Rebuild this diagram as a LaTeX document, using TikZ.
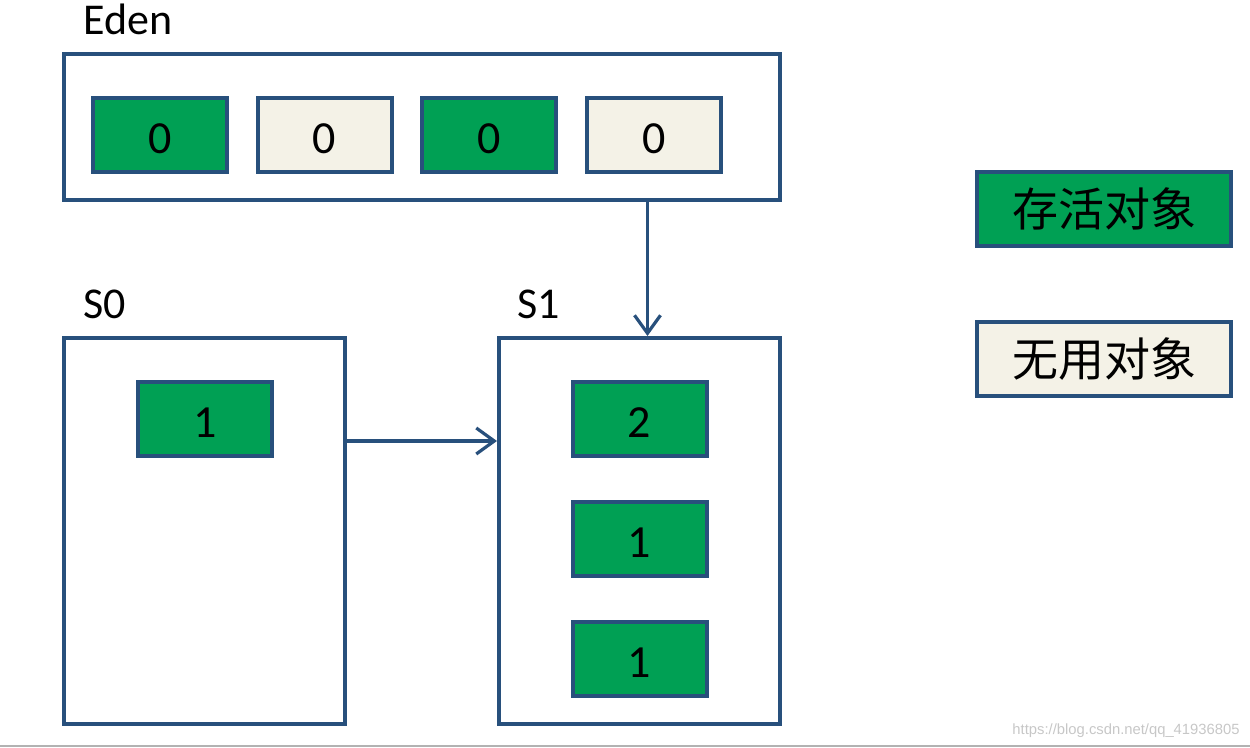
\documentclass[tikz,border=0pt]{standalone}
\usepackage{fontspec}
\setmainfont{Carlito}
\newfontfamily\cjk{Noto Sans CJK SC}
\newfontfamily\wmfont{Liberation Sans}
\usetikzlibrary{arrows.meta}

\definecolor{edgeblue}{RGB}{40,80,124}
\definecolor{alivegreen}{RGB}{0,160,84}
\definecolor{deadbeige}{RGB}{244,242,231}

\begin{document}
\begin{tikzpicture}[x=0.5pt,y=-0.5pt,
		area/.style={draw=edgeblue,line width=2pt,fill=white,inner sep=0pt},
		cell/.style={draw=edgeblue,line width=2pt,inner sep=0pt,
			minimum width=67pt,minimum height=37pt,font=\fontsize{23}{27}\selectfont},
		alive/.style={cell,fill=alivegreen,text height=19pt,text depth=0pt},
		dead/.style={cell,fill=deadbeige,text height=19pt,text depth=0pt},
		legend/.style={cell,minimum width=127pt,font=\fontsize{23}{27}\selectfont\cjk},
		title/.style={anchor=base west,inner sep=0pt,font=\fontsize{22}{26}\selectfont},
		arr/.style={edgeblue,line width=1.6pt,-{Straight Barb[length=9pt,width=13pt]}}]
		\useasboundingbox (0,0) rectangle (1250,748);
		
		% regions
		\node[area,minimum width=358pt,minimum height=73pt] (eden) at (422,127) {};
		\node[area,minimum width=140.5pt,minimum height=193pt] (s0) at (204.5,531) {};
		\node[area,minimum width=140.5pt,minimum height=193pt] (s1) at (639.5,531) {};
		
		\node[title] (edenlbl) at (83,35) {Eden};
		\node[title] (s0lbl) at (83,319) {S0};
		\node[title] (s1lbl) at (517,319) {S1};
		
		% objects in Eden
		\foreach \i/\cx/\kind in {1/160/alive,2/324.5/dead,3/489/alive,4/654/dead}
		\node[\kind] (e\i) at (\cx,135) {0};
		
		% survivors
		\node[alive] (a1) at (205,419) {1};
		\node[alive] (b1) at (639.5,419) {2};
		\node[alive] (b2) at (639.5,539) {1};
		\node[alive] (b3) at (639.5,659) {1};
		
		% copy arrows
		\draw[arr] ([xshift=4pt]s1.north |- eden.south) -- ([xshift=4pt]s1.north);
		\draw[arr] ([yshift=45pt]s0.east) -- ([yshift=45pt]s1.west);
		
		% legend
		\node[legend,fill=alivegreen] (keyalive) at (1104,209) {存活对象};
		\node[legend,fill=deadbeige] (keydead) at (1104,359) {无用对象};
		
		% watermark
		\node[anchor=base east,inner sep=0pt,text=black!22,font=\wmfont\fontsize{7.4}{9}\selectfont]
		(wm) at (1240,735) {https://blog.csdn.net/qq\_41936805};
		\draw[black!30,line width=1pt] (0,746) -- (1250,746);
\end{tikzpicture}
\end{document}
